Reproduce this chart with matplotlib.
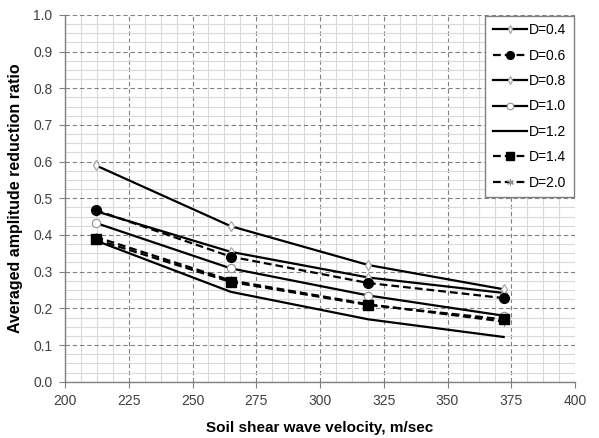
import numpy as np
import matplotlib.pyplot as plt
from matplotlib.ticker import MultipleLocator

plt.rcParams['font.family'] = ['Liberation Sans', 'DejaVu Sans']

# velocidades (m/sec)
vs = [212, 265, 319, 372]

# razão média de redução de amplitude para cada D
d04 = [0.590, 0.424, 0.318, 0.252]
d06 = [0.468, 0.341, 0.269, 0.228]
d08 = [0.465, 0.354, 0.284, 0.242]
d10 = [0.433, 0.309, 0.235, 0.180]
d12 = [0.385, 0.245, 0.170, 0.122]
d14 = [0.388, 0.272, 0.209, 0.170]
d20 = [0.395, 0.276, 0.211, 0.164]

labels = ['D=0.4', 'D=0.6', 'D=0.8', 'D=1.0', 'D=1.2', 'D=1.4', 'D=2.0']

fig = plt.figure(figsize=(5.99, 4.38), dpi=100)
ax = fig.add_axes([0.1085, 0.1285, 0.8515, 0.8375])

lw = 1.6
dash = (0, (3.5, 1.8))
ax.plot(vs, d04, color='black', lw=lw, marker='d', ms=5, mfc='white', mec='#a0a0a0', mew=0.8, label=labels[0], zorder=5)
ax.plot(vs, d06, color='black', lw=lw, ls=dash, marker='o', ms=7, mfc='black', mec='black', label=labels[1], zorder=5)
ax.plot(vs, d08, color='black', lw=lw, marker='d', ms=5, mfc='white', mec='#a0a0a0', mew=0.8, label=labels[2], zorder=4)
ax.plot(vs, d10, color='black', lw=lw, marker='o', ms=6, mfc='white', mec='#909090', mew=0.8, label=labels[3], zorder=5)
ax.plot(vs, d12, color='black', lw=lw, label=labels[4], zorder=5)
ax.plot(vs, d14, color='black', lw=lw, ls=dash, marker='s', ms=6.5, mfc='black', mec='black', label=labels[5], zorder=5)
ax.plot(vs, d20, color='black', lw=lw, ls=dash, marker=(6, 2, 0), ms=6, mec='#909090', mew=0.8, label=labels[6], zorder=4)

ax.set_xlim(200, 400)
ax.set_ylim(0, 1.0)
ax.xaxis.set_major_locator(MultipleLocator(25))
ax.xaxis.set_minor_locator(MultipleLocator(6.25))
ax.yaxis.set_major_locator(MultipleLocator(0.1))
ax.yaxis.set_minor_locator(MultipleLocator(0.025))
ax.yaxis.set_major_formatter(plt.FormatStrFormatter('%.1f'))

ax.grid(which='minor', color='#d9d9d9', lw=0.8, ls='-')
ax.grid(which='major', color='#808080', lw=0.8, ls=(0, (4, 2.5)))
ax.set_axisbelow(True)

for s in ['top', 'right']:
    ax.spines[s].set_visible(False)
for s in ['left', 'bottom']:
    ax.spines[s].set_color('#808080')
    ax.spines[s].set_linewidth(1.0)

ax.tick_params(which='major', direction='out', length=4, color='#808080', labelsize=10, labelcolor='#404040', pad=5)
ax.tick_params(which='minor', length=0)

ax.set_xlabel('Soil shear wave velocity, m/sec', fontsize=11, fontweight='bold', labelpad=9)
ax.set_ylabel('Averaged amplitude reduction ratio', fontsize=11.5, fontweight='bold', labelpad=7)

leg = ax.legend(loc='upper right', fontsize=10, handlelength=2.5, handletextpad=0.15,
                labelspacing=0.82, borderpad=0.55, borderaxespad=0.05, fancybox=False,
                framealpha=1, edgecolor='#808080', markerscale=0.8)
leg.get_frame().set_linewidth(1.0)

fig.savefig('out.png', dpi=100)
